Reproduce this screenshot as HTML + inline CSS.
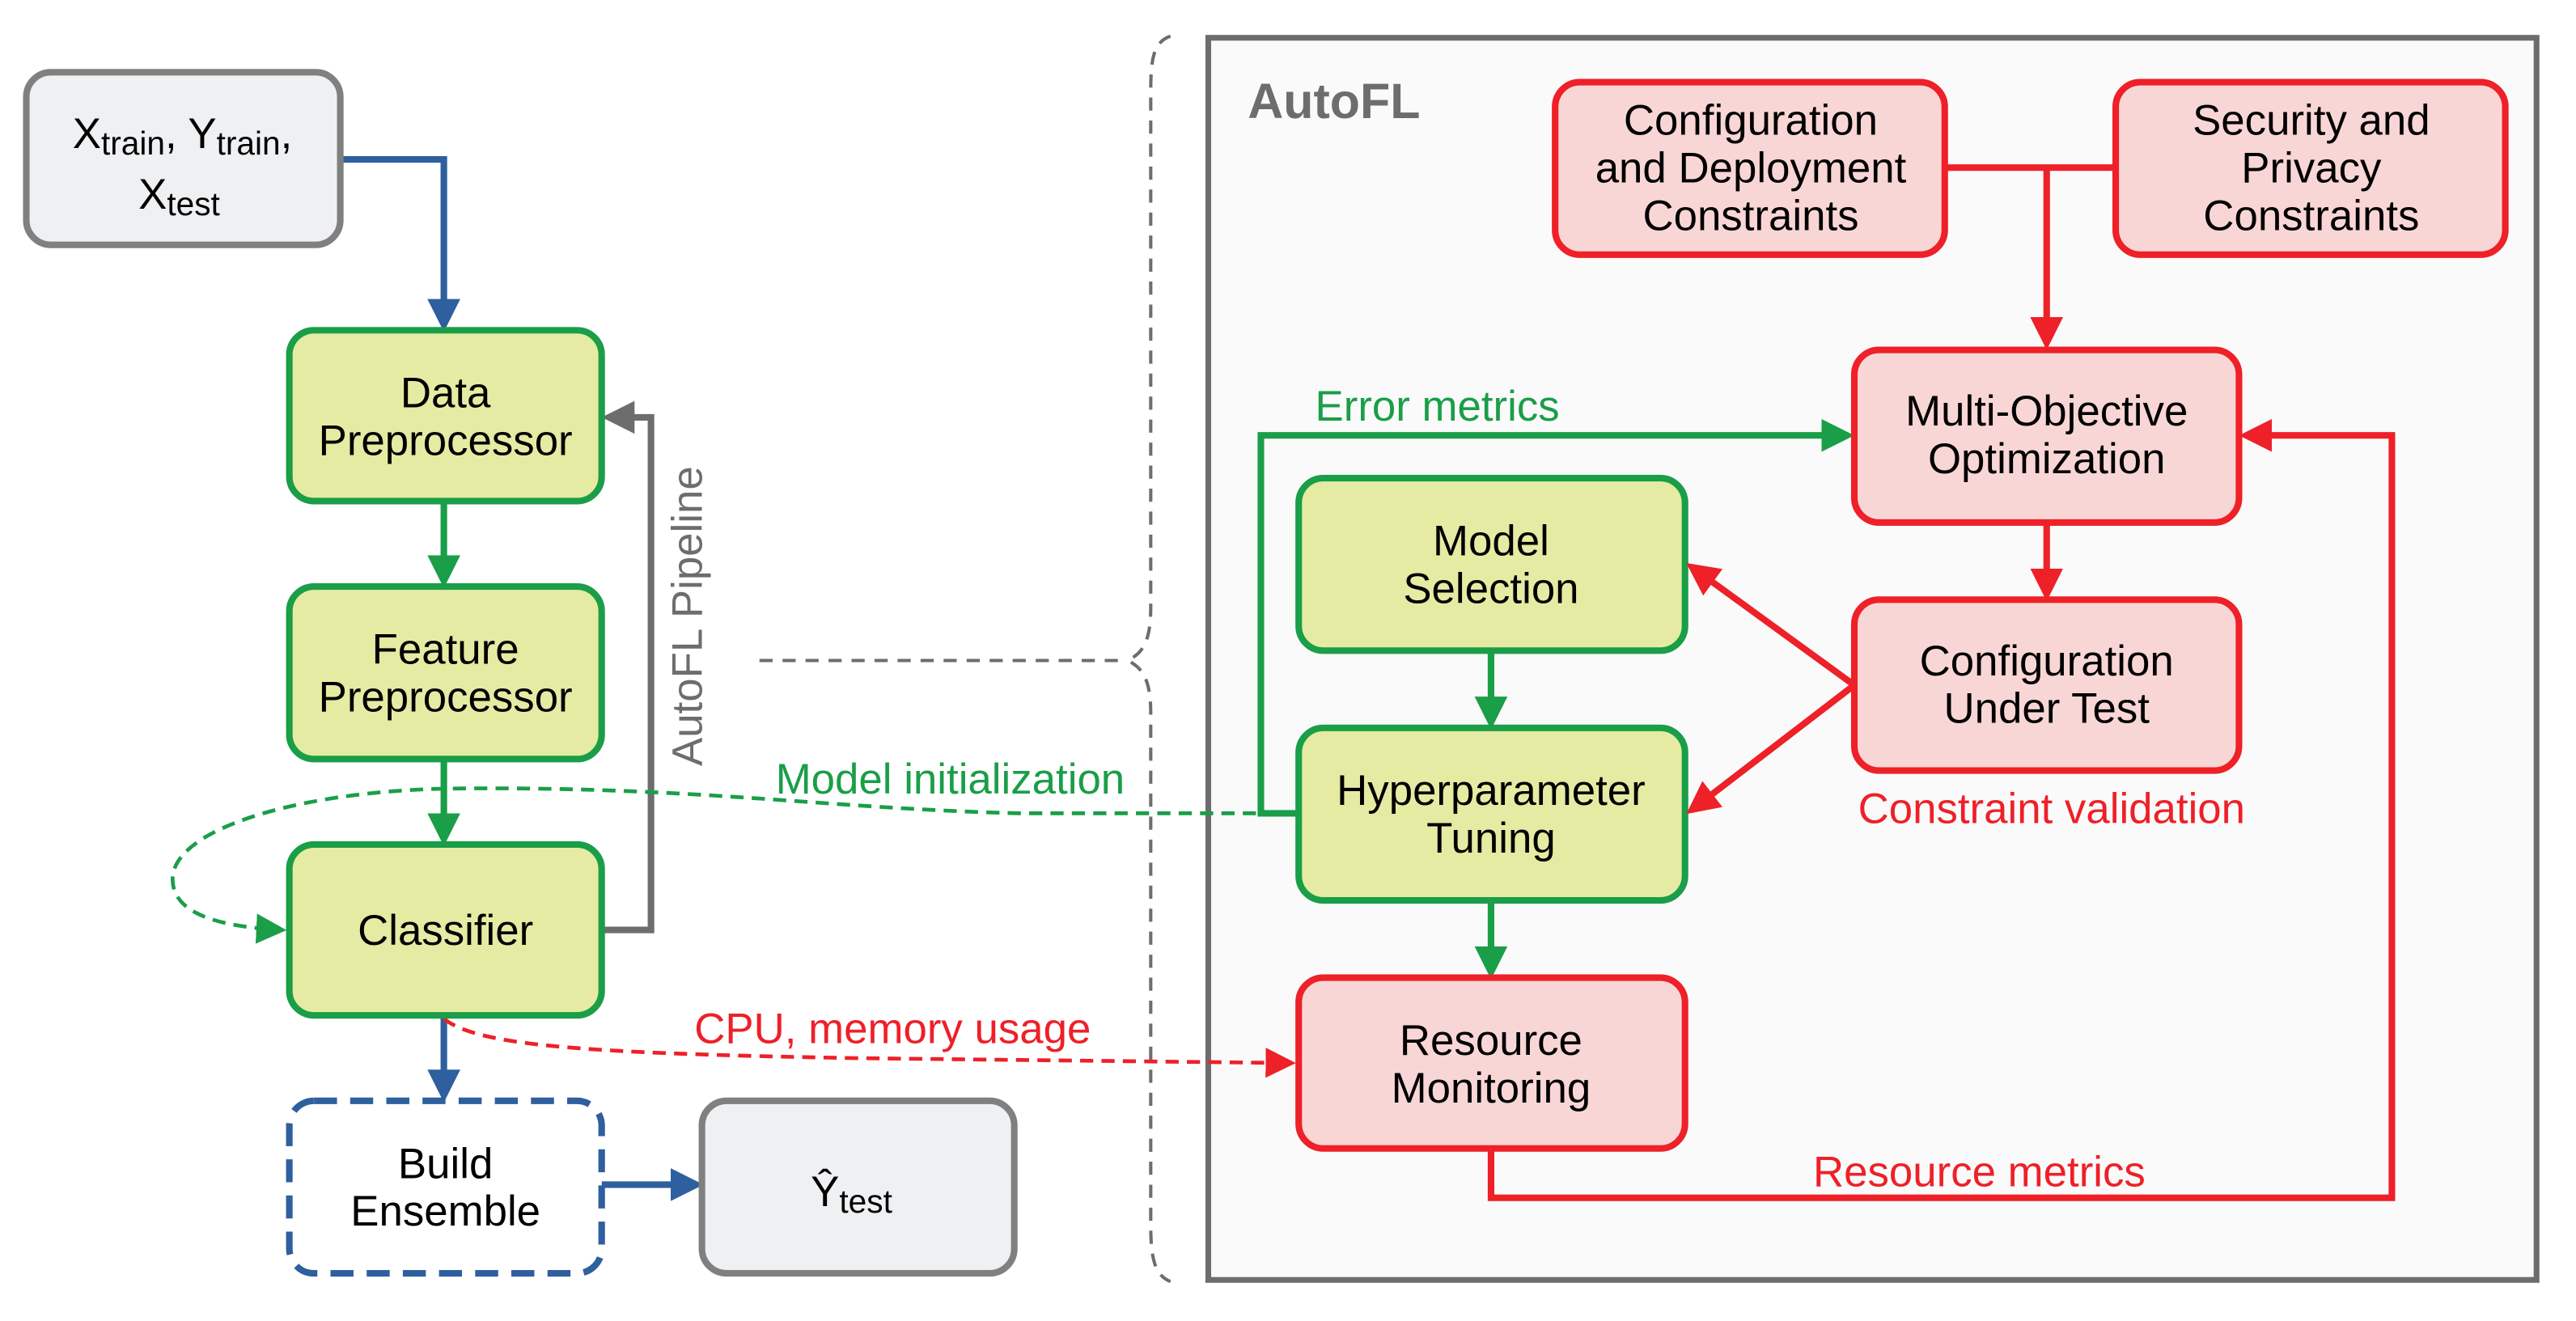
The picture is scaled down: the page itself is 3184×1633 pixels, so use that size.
<!DOCTYPE html>
<html><head><meta charset="utf-8"><style>
html,body{margin:0;padding:0;background:#fff;}
svg{display:block;}
text{font-family:"Liberation Sans",sans-serif;}
</style></head><body>
<svg width="3184" height="1633" viewBox="0 0 1567 804" preserveAspectRatio="none" xmlns="http://www.w3.org/2000/svg">
<defs>
<marker id="ab" markerWidth="5" markerHeight="5" refX="4" refY="2.5" orient="auto" markerUnits="strokeWidth"><path d="M0,0 L5,2.5 L0,5 z" fill="#2e5f9e"/></marker>
<marker id="ag" markerWidth="5" markerHeight="5" refX="4" refY="2.5" orient="auto" markerUnits="strokeWidth"><path d="M0,0 L5,2.5 L0,5 z" fill="#1a9e48"/></marker>
<marker id="agd" markerWidth="8" markerHeight="8" refX="7" refY="4" orient="auto" markerUnits="strokeWidth"><path d="M0,0 L8,4 L0,8 z" fill="#1a9e48"/></marker>
<marker id="ar" markerWidth="5" markerHeight="5" refX="4" refY="2.5" orient="auto" markerUnits="strokeWidth"><path d="M0,0 L5,2.5 L0,5 z" fill="#ee2028"/></marker>
<marker id="ard" markerWidth="8" markerHeight="8" refX="7" refY="4" orient="auto" markerUnits="strokeWidth"><path d="M0,0 L8,4 L0,8 z" fill="#ee2028"/></marker>
<marker id="ay" markerWidth="5" markerHeight="5" refX="4" refY="2.5" orient="auto" markerUnits="strokeWidth"><path d="M0,0 L5,2.5 L0,5 z" fill="#6d6d6d"/></marker>
</defs>
<rect x="735" y="23" width="808" height="756" fill="#fafafa" stroke="#6d6d6d" stroke-width="3.5"/>
<text x="759" y="72" font-size="30" font-weight="bold" fill="#6d6d6d">AutoFL</text>

<path d="M712,22 C700,26 700,40 700,60 L700,370 C700,392 694,398 686,402 C694,406 700,412 700,434 L700,745 C700,765 702,776 712,780" fill="none" stroke="#6d6d6d" stroke-width="2" stroke-dasharray="8,6"/>
<line x1="462" y1="402" x2="685" y2="402" stroke="#6d6d6d" stroke-width="2" stroke-dasharray="8,6"/>

<path d="M207,97 H270 V198" fill="none" stroke="#2e5f9e" stroke-width="4" marker-end="url(#ab)"/>
<line x1="270" y1="305" x2="270" y2="354" stroke="#1a9e48" stroke-width="4" marker-end="url(#ag)"/>
<line x1="270" y1="462" x2="270" y2="511" stroke="#1a9e48" stroke-width="4" marker-end="url(#ag)"/>
<path d="M366,566 H396 V254 H370" fill="none" stroke="#6d6d6d" stroke-width="4" marker-end="url(#ay)"/>
<line x1="270" y1="618" x2="270" y2="667" stroke="#2e5f9e" stroke-width="4" marker-end="url(#ab)"/>
<path d="M366,721 H424" fill="none" stroke="#2e5f9e" stroke-width="4" marker-end="url(#ab)"/>
<text transform="translate(427,375) rotate(-90)" text-anchor="middle" font-size="26" fill="#6d6d6d">AutoFL Pipeline</text>

<path d="M790,495 H620 C500,492 420,478 270,480 C180,482 105,505 105,535 C105,555 130,564 172,566" fill="none" stroke="#1a9e48" stroke-width="2.3" stroke-dasharray="8,5" marker-end="url(#agd)"/>
<text x="578" y="483" text-anchor="middle" font-size="26" fill="#1a9e48">Model initialization</text>
<path d="M270,620 C290,636 350,641 520,644 L786,647" fill="none" stroke="#ee2028" stroke-width="2.3" stroke-dasharray="8,5" marker-end="url(#ard)"/>
<text x="543" y="635" text-anchor="middle" font-size="26" fill="#ee2028">CPU, memory usage</text>

<rect x="16" y="44" width="191" height="105" rx="15" fill="#eff0f2" stroke="#808080" stroke-width="4"/>
<text x="111" y="90" text-anchor="middle" font-size="26">X<tspan font-size="20" dy="4">train</tspan><tspan dy="-4">, Y</tspan><tspan font-size="20" dy="4">train</tspan><tspan dy="-4">,</tspan></text>
<text x="109" y="127" text-anchor="middle" font-size="26">X<tspan font-size="20" dy="4">test</tspan></text>

<g fill="#e5eba3" stroke="#1a9e48" stroke-width="4">
<rect x="176" y="201" width="190" height="104" rx="15"/>
<rect x="176" y="357" width="190" height="105" rx="15"/>
<rect x="176" y="514" width="190" height="104" rx="15"/>
<rect x="790" y="291" width="235" height="105" rx="15"/>
<rect x="790" y="443" width="235" height="105" rx="15"/>
</g>
<g font-size="26" text-anchor="middle" fill="#000">
<text x="271" y="248">Data</text><text x="271" y="277">Preprocessor</text>
<text x="271" y="404">Feature</text><text x="271" y="433">Preprocessor</text>
<text x="271" y="575">Classifier</text>
<text x="907" y="338">Model</text><text x="907" y="367">Selection</text>
<text x="907" y="490">Hyperparameter</text><text x="907" y="519">Tuning</text>
</g>
<rect x="176" y="670" width="190" height="105" rx="15" fill="#fff" stroke="#2e5f9e" stroke-width="4" stroke-dasharray="14,8"/>
<text x="271" y="717" text-anchor="middle" font-size="26">Build</text>
<text x="271" y="746" text-anchor="middle" font-size="26">Ensemble</text>
<rect x="427" y="670" width="190" height="105" rx="15" fill="#eff0f2" stroke="#808080" stroke-width="4"/>
<text x="518" y="734" text-anchor="middle" font-size="26">Ŷ<tspan font-size="20" dy="4">test</tspan></text>

<path d="M1183,102 H1287 M1245,102 V209" fill="none" stroke="#ee2028" stroke-width="4" marker-end="url(#ar)"/>
<line x1="1245" y1="318" x2="1245" y2="362" stroke="#ee2028" stroke-width="4" marker-end="url(#ar)"/>
<line x1="1128" y1="417" x2="1029" y2="345" stroke="#ee2028" stroke-width="4" marker-end="url(#ar)"/>
<line x1="1128" y1="417" x2="1029" y2="493" stroke="#ee2028" stroke-width="4" marker-end="url(#ar)"/>
<line x1="907" y1="396" x2="907" y2="440" stroke="#1a9e48" stroke-width="4" marker-end="url(#ag)"/>
<line x1="907" y1="548" x2="907" y2="592" stroke="#1a9e48" stroke-width="4" marker-end="url(#ag)"/>
<path d="M790,495 H767 V265 H1124" fill="none" stroke="#1a9e48" stroke-width="4" marker-end="url(#ag)"/>
<text x="800" y="256" font-size="26" fill="#1a9e48">Error metrics</text>
<path d="M907,699 V729 H1455 V265 H1366" fill="none" stroke="#ee2028" stroke-width="4" marker-end="url(#ar)"/>
<text x="1204" y="722" text-anchor="middle" font-size="26" fill="#ee2028">Resource metrics</text>
<text x="1248" y="501" text-anchor="middle" font-size="26" fill="#ee2028">Constraint validation</text>

<g fill="#f9d6d6" stroke="#ee2028" stroke-width="4">
<rect x="946" y="50" width="237" height="105" rx="15"/>
<rect x="1287" y="50" width="237" height="105" rx="15"/>
<rect x="1128" y="213" width="234" height="105" rx="15"/>
<rect x="1128" y="365" width="234" height="104" rx="15"/>
<rect x="790" y="595" width="235" height="104" rx="15"/>
</g>
<g font-size="26" text-anchor="middle" fill="#000">
<text x="1065" y="82">Configuration</text><text x="1065" y="111">and Deployment</text><text x="1065" y="140">Constraints</text>
<text x="1406" y="82">Security and</text><text x="1406" y="111">Privacy</text><text x="1406" y="140">Constraints</text>
<text x="1245" y="259">Multi-Objective</text><text x="1245" y="288">Optimization</text>
<text x="1245" y="411">Configuration</text><text x="1245" y="440">Under Test</text>
<text x="907" y="642">Resource</text><text x="907" y="671">Monitoring</text>
</g>
</svg>
</body></html>
